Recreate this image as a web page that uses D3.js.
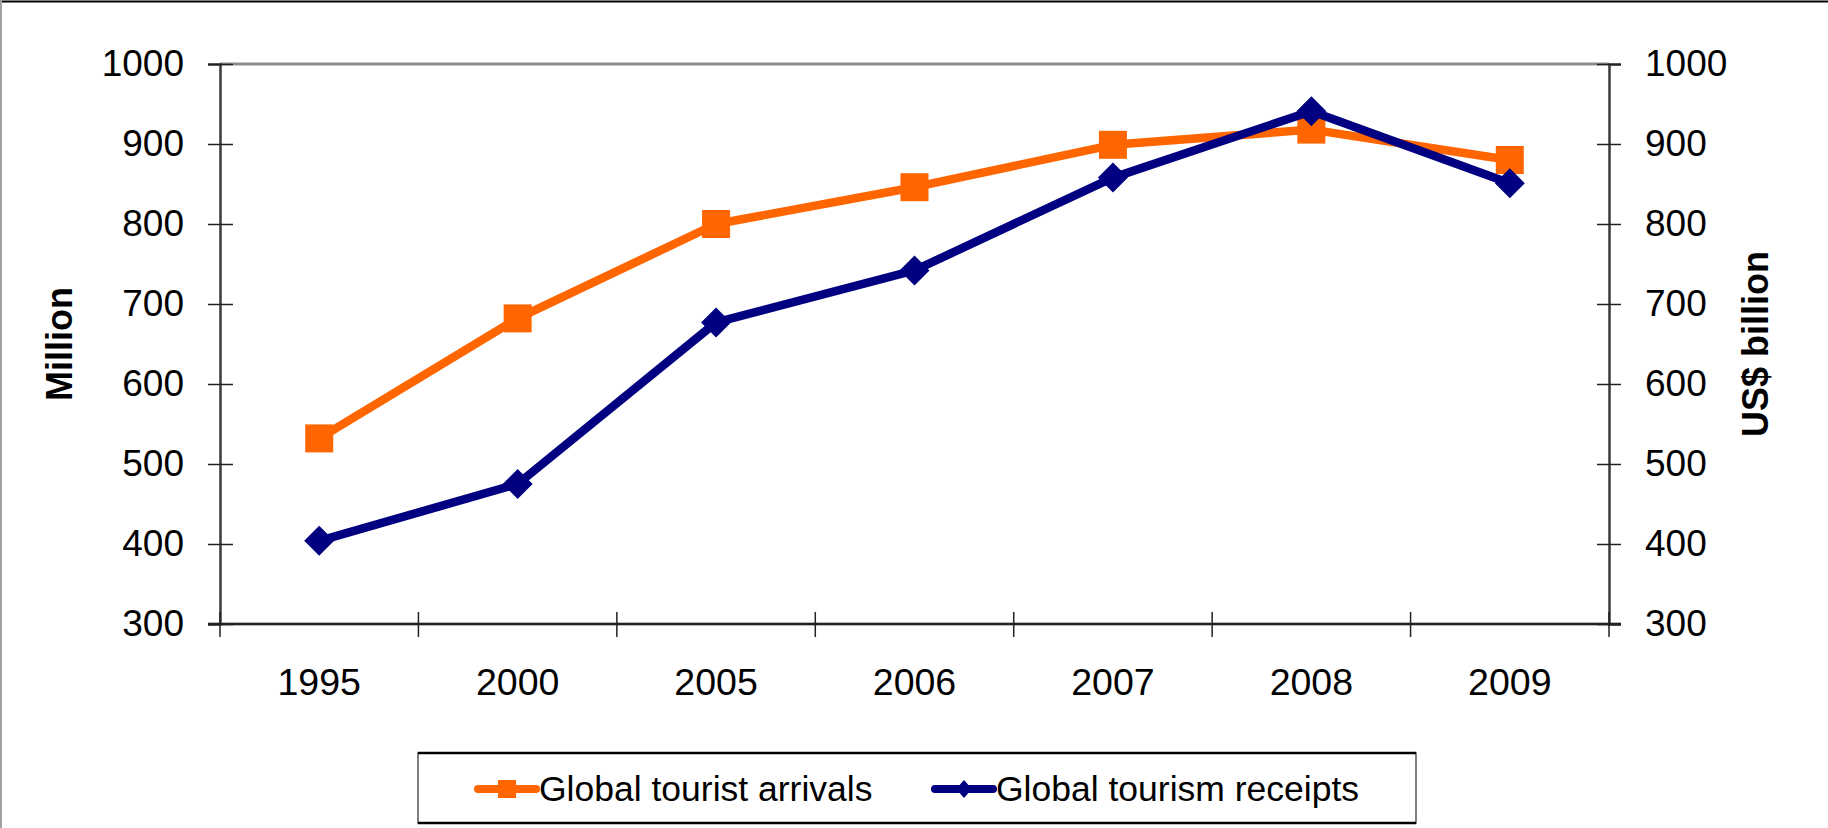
<!DOCTYPE html>
<html>
<head>
<meta charset="utf-8">
<script src="https://cdn.jsdelivr.net/npm/d3@7"></script>
<style>
  body { margin: 0; background: #fff; }
  svg { display: block; font-family: "Liberation Sans", Arial, sans-serif; }
</style>
</head>
<body>
<div id="chart"></div>
<script>
const years = ["1995", "2000", "2005", "2006", "2007", "2008", "2009"];
const arrivals = [532, 682, 800, 846, 899, 918, 880];   // million
const receipts = [404, 475, 677, 742, 858, 941, 851];   // US$ billion
const yTicks = [300, 400, 500, 600, 700, 800, 900, 1000];
const seriesNames = ["Global tourist arrivals", "Global tourism receipts"];

const width = 1828, height = 828;
const plotL = 220, plotR = 1609, plotT = 64, plotB = 624;

const svg = d3.select("#chart").append("svg")
    .attr("width", width)
    .attr("height", height);

svg.append("rect").attr("width", width).attr("height", height).attr("fill", "#fff");

// outer frame
svg.append("line").attr("x1", 0).attr("x2", width).attr("y1", 1.5).attr("y2", 1.5)
    .attr("stroke", "#000").attr("stroke-width", 2);
svg.append("line").attr("x1", 1).attr("x2", 1).attr("y1", 0).attr("y2", height)
    .attr("stroke", "#a0a0a0").attr("stroke-width", 2);

const xBand = d3.scaleBand().domain(years).range([plotL, plotR]);
const x = d => xBand(d) + xBand.bandwidth() / 2;
const yL = d3.scaleLinear().domain([300, 1000]).range([plotB, plotT]);
const yR = d3.scaleLinear().domain([300, 1000]).range([plotB, plotT]);
const fmt = d3.format("d");

// plot area top border
svg.append("line").attr("x1", plotL).attr("x2", plotR).attr("y1", plotT).attr("y2", plotT)
    .attr("stroke", "#8c8c8c").attr("stroke-width", 3);

// bottom axis (gray halo + dark line)
svg.append("line").attr("x1", plotL - 12).attr("x2", plotR + 12).attr("y1", plotB).attr("y2", plotB)
    .attr("stroke", "#b8b8b8").attr("stroke-width", 4);

const leftAxis = svg.append("g")
    .attr("transform", `translate(${plotL},0)`)
    .call(d3.axisLeft(yL).tickValues(yTicks).tickFormat(fmt).tickSize(12).tickPadding(24));
leftAxis.select(".domain").attr("stroke", "#3a3a3a").attr("stroke-width", 2.5);
leftAxis.selectAll(".tick line").attr("x1", 13).attr("stroke", "#222").attr("stroke-width", 1.5);
leftAxis.selectAll(".tick text").attr("font-size", 37).attr("fill", "#000")
    .attr("font-family", "Liberation Sans, Arial, sans-serif");

const rightAxis = svg.append("g")
    .attr("transform", `translate(${plotR},0)`)
    .call(d3.axisRight(yR).tickValues(yTicks).tickFormat(fmt).tickSize(12).tickPadding(24));
rightAxis.select(".domain").attr("stroke", "#3a3a3a").attr("stroke-width", 2.5);
rightAxis.selectAll(".tick line").attr("x1", -12).attr("stroke", "#222").attr("stroke-width", 1.5);
rightAxis.selectAll(".tick text").attr("font-size", 37).attr("fill", "#000")
    .attr("font-family", "Liberation Sans, Arial, sans-serif");

const bottomAxis = svg.append("g")
    .attr("transform", `translate(0,${plotB})`)
    .call(d3.axisBottom(xBand).tickSize(0).tickPadding(44));
bottomAxis.select(".domain").attr("stroke", "#222").attr("stroke-width", 2)
    .attr("d", `M${plotL - 12},0H${plotR + 12}`);
bottomAxis.selectAll(".tick text").attr("font-size", 37.5).attr("fill", "#000")
    .attr("font-family", "Liberation Sans, Arial, sans-serif");

// category separator ticks
svg.append("g").selectAll("line")
    .data(years.concat(["end"]))
    .enter()
    .append("line")
    .attr("x1", (d, i) => plotL + i * xBand.step())
    .attr("x2", (d, i) => plotL + i * xBand.step())
    .attr("y1", plotB - 12)
    .attr("y2", plotB + 13)
    .attr("stroke", "#222")
    .attr("stroke-width", 1.5);

// axis titles
svg.append("text")
    .attr("transform", `translate(59,344) rotate(-90)`)
    .attr("text-anchor", "middle")
    .attr("dy", "0.35em")
    .attr("font-size", 36)
    .attr("font-weight", "bold")
    .text("Million");

svg.append("text")
    .attr("transform", `translate(1755,344) rotate(-90)`)
    .attr("text-anchor", "middle")
    .attr("dy", "0.35em")
    .attr("font-size", 36)
    .attr("font-weight", "bold")
    .text("US$ billion");

const orange = "#ff6600", navy = "#000080";

const lineL = d3.line().x((d, i) => x(years[i])).y(d => yL(d));
const lineR = d3.line().x((d, i) => x(years[i])).y(d => yR(d));

const plot = svg.append("g");

plot.append("path")
    .attr("d", lineL(arrivals))
    .attr("fill", "none")
    .attr("stroke", orange)
    .attr("stroke-width", 8.5)
    .attr("stroke-linejoin", "round");

plot.selectAll("rect.arr")
    .data(arrivals)
    .enter()
    .append("rect")
    .classed("arr", true)
    .attr("x", (d, i) => x(years[i]) - 14)
    .attr("y", d => yL(d) - 14)
    .attr("width", 28)
    .attr("height", 28)
    .attr("fill", orange);

plot.append("path")
    .attr("d", lineR(receipts))
    .attr("fill", "none")
    .attr("stroke", navy)
    .attr("stroke-width", 8.5)
    .attr("stroke-linejoin", "round");

plot.selectAll("path.rec")
    .data(receipts)
    .enter()
    .append("path")
    .classed("rec", true)
    .attr("d", (d, i) => {
        const cx = x(years[i]), cy = yR(d), r = 15;
        return `M${cx},${cy - r}L${cx + r},${cy}L${cx},${cy + r}L${cx - r},${cy}Z`;
    })
    .attr("fill", navy);

// legend
const legend = svg.append("g");
legend.append("rect")
    .attr("x", 418).attr("y", 753).attr("width", 998).attr("height", 70)
    .attr("fill", "#fff").attr("stroke", "#555").attr("stroke-width", 1.5);
legend.append("line").attr("x1", 418).attr("x2", 1416).attr("y1", 753).attr("y2", 753)
    .attr("stroke", "#000").attr("stroke-width", 2.5);
legend.append("line").attr("x1", 418).attr("x2", 1416).attr("y1", 823).attr("y2", 823)
    .attr("stroke", "#000").attr("stroke-width", 2.5);

const ly = 789;
const items = [
    { name: seriesNames[0], color: orange, x0: 478, marker: "square" },
    { name: seriesNames[1], color: navy, x0: 935, marker: "diamond" }
];

items.forEach(it => {
    legend.append("line")
        .attr("x1", it.x0).attr("x2", it.x0 + 58)
        .attr("y1", ly).attr("y2", ly)
        .attr("stroke", it.color).attr("stroke-width", 8)
        .attr("stroke-linecap", "round");
    const cx = it.x0 + 29;
    if (it.marker === "square") {
        legend.append("rect")
            .attr("x", cx - 9).attr("y", ly - 9).attr("width", 18).attr("height", 18)
            .attr("fill", it.color);
    } else {
        legend.append("path")
            .attr("d", `M${cx},${ly - 9}L${cx + 8},${ly}L${cx},${ly + 9}L${cx - 8},${ly}Z`)
            .attr("fill", it.color);
    }
    legend.append("text")
        .attr("x", it.x0 + 61)
        .attr("y", ly)
        .attr("dy", "0.35em")
        .attr("font-size", 35.5)
        .attr("fill", "#000")
        .text(it.name);
});
</script>
</body>
</html>
